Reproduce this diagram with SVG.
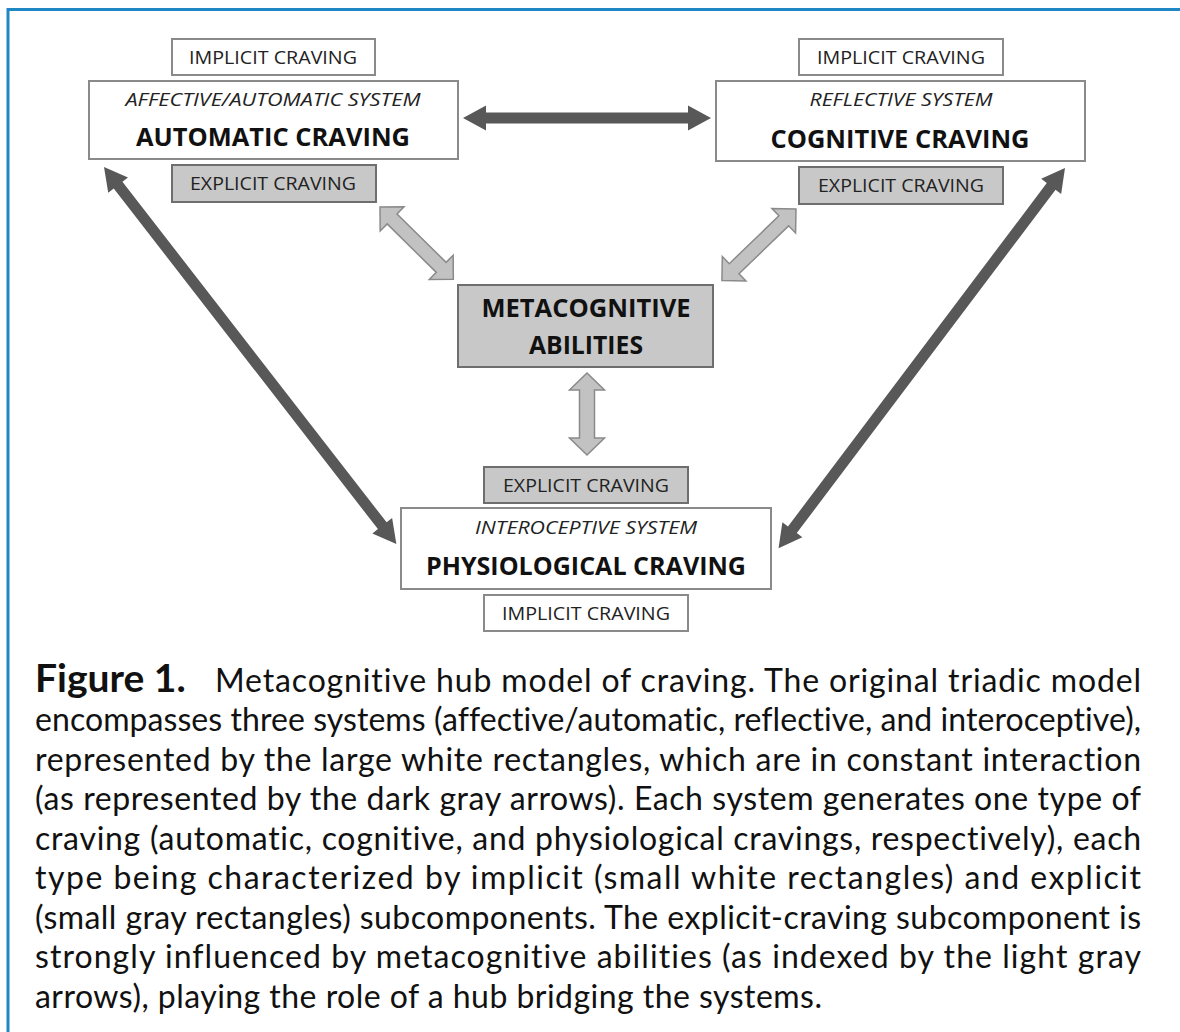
<svg xmlns="http://www.w3.org/2000/svg" width="1180" height="1032" viewBox="0 0 1180 1032">
<style>
.wb{fill:#fff;stroke:#8a8a8a;stroke-width:2}
.gb{fill:#c8c8c8;stroke:#6e6e6e;stroke-width:2}
.sm{font-family:"Open Sans","Liberation Sans",sans-serif;font-size:19px;fill:#222;text-anchor:middle}
.it{font-family:"Open Sans","Liberation Sans",sans-serif;font-size:19px;font-style:italic;fill:#222;text-anchor:middle}
.bd{font-family:"Open Sans","Liberation Sans",sans-serif;font-size:25px;font-weight:bold;fill:#111;text-anchor:middle}
.dk{fill:#585858}
.lt{fill:#c2c2c2;stroke:#8a8a8a;stroke-width:1.5}
.cap{font-family:Lato,"Liberation Sans",sans-serif;font-size:32px;fill:#111;font-variant-ligatures:none}
.capb{font-family:Lato,"Liberation Sans",sans-serif;font-size:39px;font-weight:bold;fill:#111;font-variant-ligatures:none}
</style>
<rect x="0" y="0" width="1180" height="1032" fill="#fff"/>
<g id="frame">
<line x1="7" y1="9.5" x2="1180" y2="9.5" stroke="#1f87c3" stroke-width="3"/>
<line x1="8" y1="8" x2="8" y2="1032" stroke="#1f87c3" stroke-width="3"/>
</g>
<g id="connectors">
<polygon class="dk" transform="translate(463,118)" points="0,0 23,-12.5 23,-5.5 225,-5.5 225,-12.5 248,0 225,12.5 225,5.5 23,5.5 23,12.5"/>
<polygon class="dk" transform="translate(104,167) rotate(52.2)" points="0,0 23,-12.5 23,-5.5 454,-5.5 454,-12.5 477,0 454,12.5 454,5.5 23,5.5 23,12.5"/>
<polygon class="dk" transform="translate(1065,168) rotate(127)" points="0,0 23,-12.5 23,-5.5 453,-5.5 453,-12.5 476,0 453,12.5 453,5.5 23,5.5 23,12.5"/>
<polygon class="lt" transform="translate(380,207) rotate(44.6)" points="0,0 17,-17 17,-7 86,-7 86,-17 103,0 86,17 86,7 17,7 17,17"/>
<polygon class="lt" transform="translate(796,209) rotate(136)" points="0,0 17,-17 17,-7 86,-7 86,-17 103,0 86,17 86,7 17,7 17,17"/>
<polygon class="lt" transform="translate(587,373) rotate(90)" points="0,0 17,-17.5 17,-7.5 65,-7.5 65,-17.5 82,0 65,17.5 65,7.5 17,7.5 17,17.5"/>
</g>
<g id="automatic">
<rect class="wb" x="172" y="39" width="203" height="36"/>
<text class="sm" x="273" y="64" textLength="168" lengthAdjust="spacingAndGlyphs">IMPLICIT CRAVING</text>
<rect class="wb" x="89" y="81" width="369" height="78"/>
<text class="it" x="273" y="106" textLength="295" lengthAdjust="spacingAndGlyphs">AFFECTIVE/AUTOMATIC SYSTEM</text>
<text class="bd" x="273" y="146" textLength="274" lengthAdjust="spacingAndGlyphs">AUTOMATIC CRAVING</text>
<rect class="gb" x="172" y="165" width="204" height="37"/>
<text class="sm" x="273" y="190" textLength="166" lengthAdjust="spacingAndGlyphs">EXPLICIT CRAVING</text>
</g>
<g id="cognitive">
<rect class="wb" x="799" y="39" width="204" height="36"/>
<text class="sm" x="901" y="64" textLength="168" lengthAdjust="spacingAndGlyphs">IMPLICIT CRAVING</text>
<rect class="wb" x="716" y="81" width="369" height="80"/>
<text class="it" x="901" y="106" textLength="183" lengthAdjust="spacingAndGlyphs">REFLECTIVE SYSTEM</text>
<text class="bd" x="900" y="148" textLength="259" lengthAdjust="spacingAndGlyphs">COGNITIVE CRAVING</text>
<rect class="gb" x="799" y="167" width="204" height="37"/>
<text class="sm" x="901" y="192" textLength="166" lengthAdjust="spacingAndGlyphs">EXPLICIT CRAVING</text>
</g>
<g id="metacognitive">
<rect class="gb" x="458" y="285" width="255" height="82"/>
<text class="bd" x="586" y="317" textLength="209" lengthAdjust="spacingAndGlyphs">METACOGNITIVE</text>
<text class="bd" x="586" y="354" textLength="114" lengthAdjust="spacingAndGlyphs">ABILITIES</text>
</g>
<g id="physiological">
<rect class="gb" x="484" y="467" width="204" height="36"/>
<text class="sm" x="586" y="492" textLength="166" lengthAdjust="spacingAndGlyphs">EXPLICIT CRAVING</text>
<rect class="wb" x="401" y="508" width="370" height="81"/>
<text class="it" x="586" y="534" textLength="222" lengthAdjust="spacingAndGlyphs">INTEROCEPTIVE SYSTEM</text>
<text class="bd" x="586" y="575" textLength="320" lengthAdjust="spacingAndGlyphs">PHYSIOLOGICAL CRAVING</text>
<rect class="wb" x="484" y="595" width="204" height="36"/>
<text class="sm" x="586" y="620" textLength="168" lengthAdjust="spacingAndGlyphs">IMPLICIT CRAVING</text>
</g>
<g id="caption">
<text class="capb" x="35" y="692">Figure 1.</text>
<text class="cap" x="215" y="692" textLength="926" lengthAdjust="spacing">Metacognitive hub model of craving. The original triadic model</text>
<text class="cap" x="35" y="731" textLength="1106" lengthAdjust="spacing">encompasses three systems (affective/automatic, reflective, and interoceptive),</text>
<text class="cap" x="35" y="771" textLength="1106" lengthAdjust="spacing">represented by the large white rectangles, which are in constant interaction</text>
<text class="cap" x="35" y="810" textLength="1106" lengthAdjust="spacing">(as represented by the dark gray arrows). Each system generates one type of</text>
<text class="cap" x="35" y="850" textLength="1106" lengthAdjust="spacing">craving (automatic, cognitive, and physiological cravings, respectively), each</text>
<text class="cap" x="35" y="889" textLength="1106" lengthAdjust="spacing">type being characterized by implicit (small white rectangles) and explicit</text>
<text class="cap" x="35" y="929" textLength="1106" lengthAdjust="spacing">(small gray rectangles) subcomponents. The explicit-craving subcomponent is</text>
<text class="cap" x="35" y="968" textLength="1106" lengthAdjust="spacing">strongly influenced by metacognitive abilities (as indexed by the light gray</text>
<text class="cap" x="35" y="1008" textLength="787" lengthAdjust="spacing">arrows), playing the role of a hub bridging the systems.</text>
</g>
</svg>
